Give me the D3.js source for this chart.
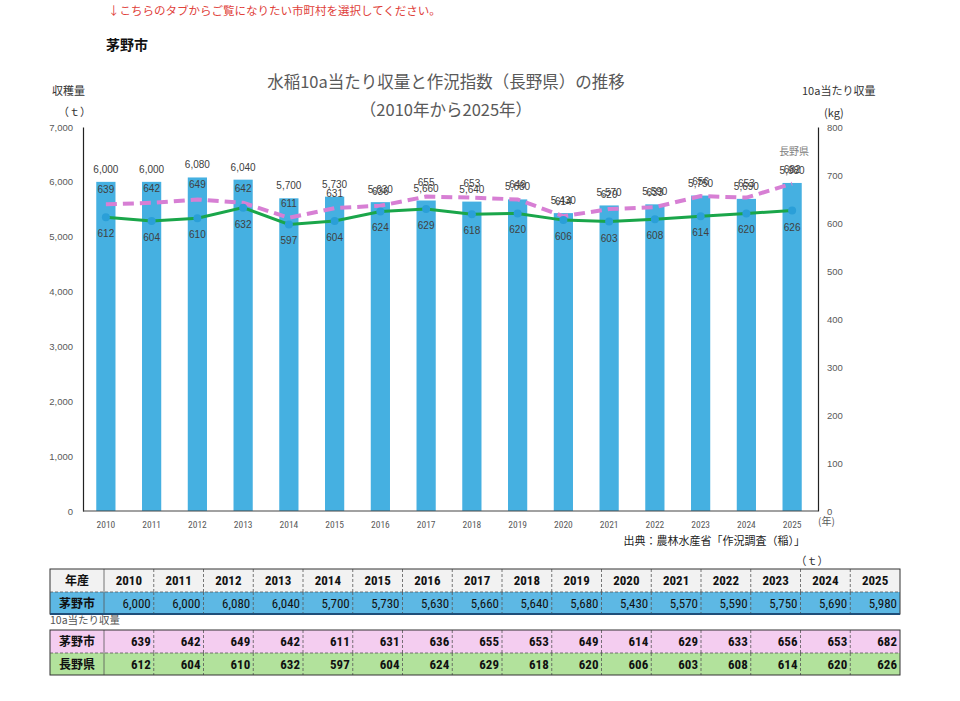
<!DOCTYPE html>
<html>
<head>
<meta charset="utf-8">
<script src="https://cdn.jsdelivr.net/npm/d3@7"></script>
<style>
  body { margin: 0; background: #fff; }
  svg { display: block; }
</style>
</head>
<body>
<svg id="chart" width="960" height="701"></svg>
<script>
// ── Data ────────────────────────────────────────────────────────────────
const years = [2010, 2011, 2012, 2013, 2014, 2015, 2016, 2017, 2018, 2019, 2020, 2021, 2022, 2023, 2024, 2025];
const harvest = [6000, 6000, 6080, 6040, 5700, 5730, 5630, 5660, 5640, 5680, 5430, 5570, 5590, 5750, 5690, 5980];
const chinoYield = [639, 642, 649, 642, 611, 631, 636, 655, 653, 649, 614, 629, 633, 656, 653, 682];
const naganoYield = [612, 604, 610, 632, 597, 604, 624, 629, 618, 620, 606, 603, 608, 614, 620, 626];
const leftTicks = [0, 1000, 2000, 3000, 4000, 5000, 6000, 7000];
const rightTicks = [0, 100, 200, 300, 400, 500, 600, 700, 800];

const JP = '"Noto Sans CJK JP", "Noto Sans", sans-serif';
const NARROW = '"Liberation Sans Narrow", "Roboto Condensed", "Liberation Sans", sans-serif';
const GRAY = '#595959';
const BAR = '#45b0e1';
const PINK = '#d77fd4';
const GREEN = '#1aa64a';

const svg = d3.select('#chart');
const fmt = d3.format(',');

// ── Header texts ────────────────────────────────────────────────────────
svg.append('text').attr('x', 108).attr('y', 15)
  .attr('font-family', JP).attr('font-size', 11.5).attr('fill', '#e0413a')
  .text('↓こちらのタブからご覧になりたい市町村を選択してください。');
svg.append('text').attr('x', 106).attr('y', 50)
  .attr('font-family', JP).attr('font-size', 14).attr('font-weight', 'bold').attr('fill', '#111')
  .text('茅野市');

// ── Chart ───────────────────────────────────────────────────────────────
const plot = { left: 83, right: 815, top: 127, bottom: 511 };

const x = d3.scaleBand().domain(years).range([plot.left, plot.right]).paddingInner(0.58).paddingOuter(0.29);
const yL = d3.scaleLinear().domain([0, 7000]).range([plot.bottom, plot.top]);
const yR = d3.scaleLinear().domain([0, 800]).range([plot.bottom, plot.top]);
const cx = d => x(d) + x.bandwidth() / 2;

// titles
svg.append('text').attr('x', 446).attr('y', 88).attr('text-anchor', 'middle')
  .attr('font-family', JP).attr('font-size', 16.5).attr('fill', GRAY)
  .text('水稲10a当たり収量と作況指数（長野県）の推移');
svg.append('text').attr('x', 446).attr('y', 116).attr('text-anchor', 'middle')
  .attr('font-family', JP).attr('font-size', 16.5).attr('fill', GRAY)
  .text('（2010年から2025年）');

// axis titles
svg.append('text').attr('x', 52).attr('y', 95)
  .attr('font-family', JP).attr('font-size', 11).attr('fill', '#333').text('収穫量');
svg.append('text').attr('x', 58).attr('y', 116)
  .attr('font-family', JP).attr('font-size', 11).attr('fill', '#333').text('（ｔ）');
svg.append('text').attr('x', 802).attr('y', 95)
  .attr('font-family', JP).attr('font-size', 11).attr('fill', '#333').text('10a当たり収量');
svg.append('text').attr('x', 824).attr('y', 117)
  .attr('font-family', JP).attr('font-size', 11).attr('fill', '#333').text('(kg)');

// left axis
const axL = svg.append('g').attr('transform', `translate(${plot.left},0)`)
  .call(d3.axisLeft(yL).tickValues(leftTicks).tickFormat(fmt).tickSize(0).tickPadding(10));
axL.select('.domain').attr('stroke', '#222').attr('stroke-width', 1.2);
axL.selectAll('text').attr('font-family', '"Liberation Sans", sans-serif').attr('font-size', 9.5).attr('fill', GRAY);

// right axis
const axR = svg.append('g').attr('transform', `translate(${plot.right + 3},0)`)
  .call(d3.axisRight(yR).tickValues(rightTicks).tickSize(0).tickPadding(9));
axR.select('.domain').attr('stroke', '#222').attr('stroke-width', 1.2);
axR.selectAll('text').attr('font-family', '"Liberation Sans", sans-serif').attr('font-size', 9.5).attr('fill', GRAY);

// bars
svg.append('g').selectAll('rect').data(years).join('rect')
  .attr('x', d => x(d)).attr('width', x.bandwidth())
  .attr('y', (d, i) => yL(harvest[i])).attr('height', (d, i) => yL(0) - yL(harvest[i]))
  .attr('fill', BAR);

// bottom axis
const axB = svg.append('g').attr('transform', `translate(0,${plot.bottom})`)
  .call(d3.axisBottom(x).tickSize(0).tickPadding(10));
axB.select('.domain').attr('stroke', '#444').attr('stroke-width', 1.2)
  .attr('d', `M${plot.left},0H${plot.right + 3}`);
axB.selectAll('text').attr('font-family', NARROW).attr('font-size', 9.5).attr('fill', GRAY);
svg.append('text').attr('x', plot.right + 3).attr('y', 525)
  .attr('font-family', JP).attr('font-size', 10).attr('fill', GRAY).text('(年)');

// lines
const lineChino = d3.line().x((d, i) => cx(years[i])).y(d => yR(d));
svg.append('path').datum(chinoYield).attr('d', lineChino)
  .attr('fill', 'none').attr('stroke', PINK).attr('stroke-width', 4)
  .attr('stroke-dasharray', '11,6');
svg.append('path').datum(naganoYield).attr('d', lineChino)
  .attr('fill', 'none').attr('stroke', GREEN).attr('stroke-width', 3);
svg.append('g').selectAll('circle').data(naganoYield).join('circle')
  .attr('cx', (d, i) => cx(years[i])).attr('cy', d => yR(d)).attr('r', 4)
  .attr('fill', '#2a9fd8');

// data labels
const lbl = svg.append('g').attr('font-family', '"Liberation Sans", sans-serif')
  .attr('font-size', 10).attr('fill', '#404040').attr('text-anchor', 'middle');
lbl.selectAll('.hl').data(harvest).join('text').attr('class', 'hl')
  .attr('x', (d, i) => cx(years[i])).attr('y', d => yL(d) - 9).text(d => fmt(d));
lbl.selectAll('.cl').data(chinoYield).join('text').attr('class', 'cl')
  .attr('x', (d, i) => cx(years[i])).attr('y', d => yR(d) - 11).text(d => d);
lbl.selectAll('.nl').data(naganoYield).join('text').attr('class', 'nl')
  .attr('x', (d, i) => cx(years[i])).attr('y', d => yR(d) + 20).text(d => d);
svg.append('text').attr('x', cx(2025) + 2).attr('y', yR(chinoYield[15]) - 29)
  .attr('text-anchor', 'middle').attr('font-family', JP).attr('font-size', 10).attr('fill', '#808080')
  .text('長野県');

// source
svg.append('text').attr('x', 805).attr('y', 545).attr('text-anchor', 'end')
  .attr('font-family', JP).attr('font-size', 11).attr('fill', '#222')
  .text('出典：農林水産省「作況調査（稲）」');
svg.append('text').attr('x', 812).attr('y', 565).attr('text-anchor', 'middle')
  .attr('font-family', JP).attr('font-size', 11).attr('fill', '#333').text('（ｔ）');

// ── Tables ──────────────────────────────────────────────────────────────
const tx0 = 50, tLabelW = 54, tx1 = 900;
const colX = d3.scaleBand().domain(years).range([tx0 + tLabelW, tx1]);

function tableRow(y, h, label, values, fill, opts) {
  const g = svg.append('g');
  g.append('rect').attr('x', tx0).attr('y', y).attr('width', tx1 - tx0).attr('height', h).attr('fill', fill);
  g.append('text').attr('x', tx0 + tLabelW / 2).attr('y', y + h / 2 + 4.5).attr('text-anchor', 'middle')
    .attr('font-family', JP).attr('font-size', 12).attr('font-weight', 'bold').attr('fill', '#111').text(label);
  g.selectAll('.v').data(values).join('text')
    .attr('x', (d, i) => opts.center ? colX(years[i]) + colX.bandwidth() / 2 : colX(years[i]) + colX.bandwidth() - 3)
    .attr('y', y + h / 2 + 4.5)
    .attr('text-anchor', opts.center ? 'middle' : 'end')
    .attr('font-family', NARROW).attr('font-size', 13).attr('font-weight', opts.bold ? 'bold' : 'normal')
    .attr('fill', '#111').text(d => opts.fmt ? fmt(d) : d);
  g.selectAll('.sep').data(years).join('line')
    .attr('x1', d => colX(d)).attr('x2', d => colX(d)).attr('y1', y).attr('y2', y + h)
    .attr('stroke', '#555').attr('stroke-width', 0.8)
    .attr('stroke-dasharray', (d, i) => i === 0 ? null : '3,2');
  return g;
}

function frame(y, h, sepY) {
  svg.append('rect').attr('x', tx0).attr('y', y).attr('width', tx1 - tx0).attr('height', h)
    .attr('fill', 'none').attr('stroke', '#333').attr('stroke-width', 1);
  if (sepY != null) {
    svg.append('line').attr('x1', tx0).attr('x2', tx1).attr('y1', sepY).attr('y2', sepY)
      .attr('stroke', '#555').attr('stroke-width', 0.8).attr('stroke-dasharray', '3,2');
  }
}

tableRow(569, 23, '年産', years, '#f2f2f2', { center: true, bold: true });
tableRow(592, 22, '茅野市', harvest, '#5db8e4', { fmt: true });
frame(569, 45, 592);
svg.append('line').attr('x1', tx0).attr('x2', tx1).attr('y1', 614).attr('y2', 614)
  .attr('stroke', '#1f4e79').attr('stroke-width', 2);

svg.append('text').attr('x', 50).attr('y', 624)
  .attr('font-family', JP).attr('font-size', 10.5).attr('fill', '#555').text('10a当たり収量');

tableRow(630, 23, '茅野市', chinoYield, '#f4cdf0', { bold: true });
tableRow(653, 22, '長野県', naganoYield, '#b2e29c', { bold: true });
frame(630, 45, 653);
</script>
</body>
</html>
